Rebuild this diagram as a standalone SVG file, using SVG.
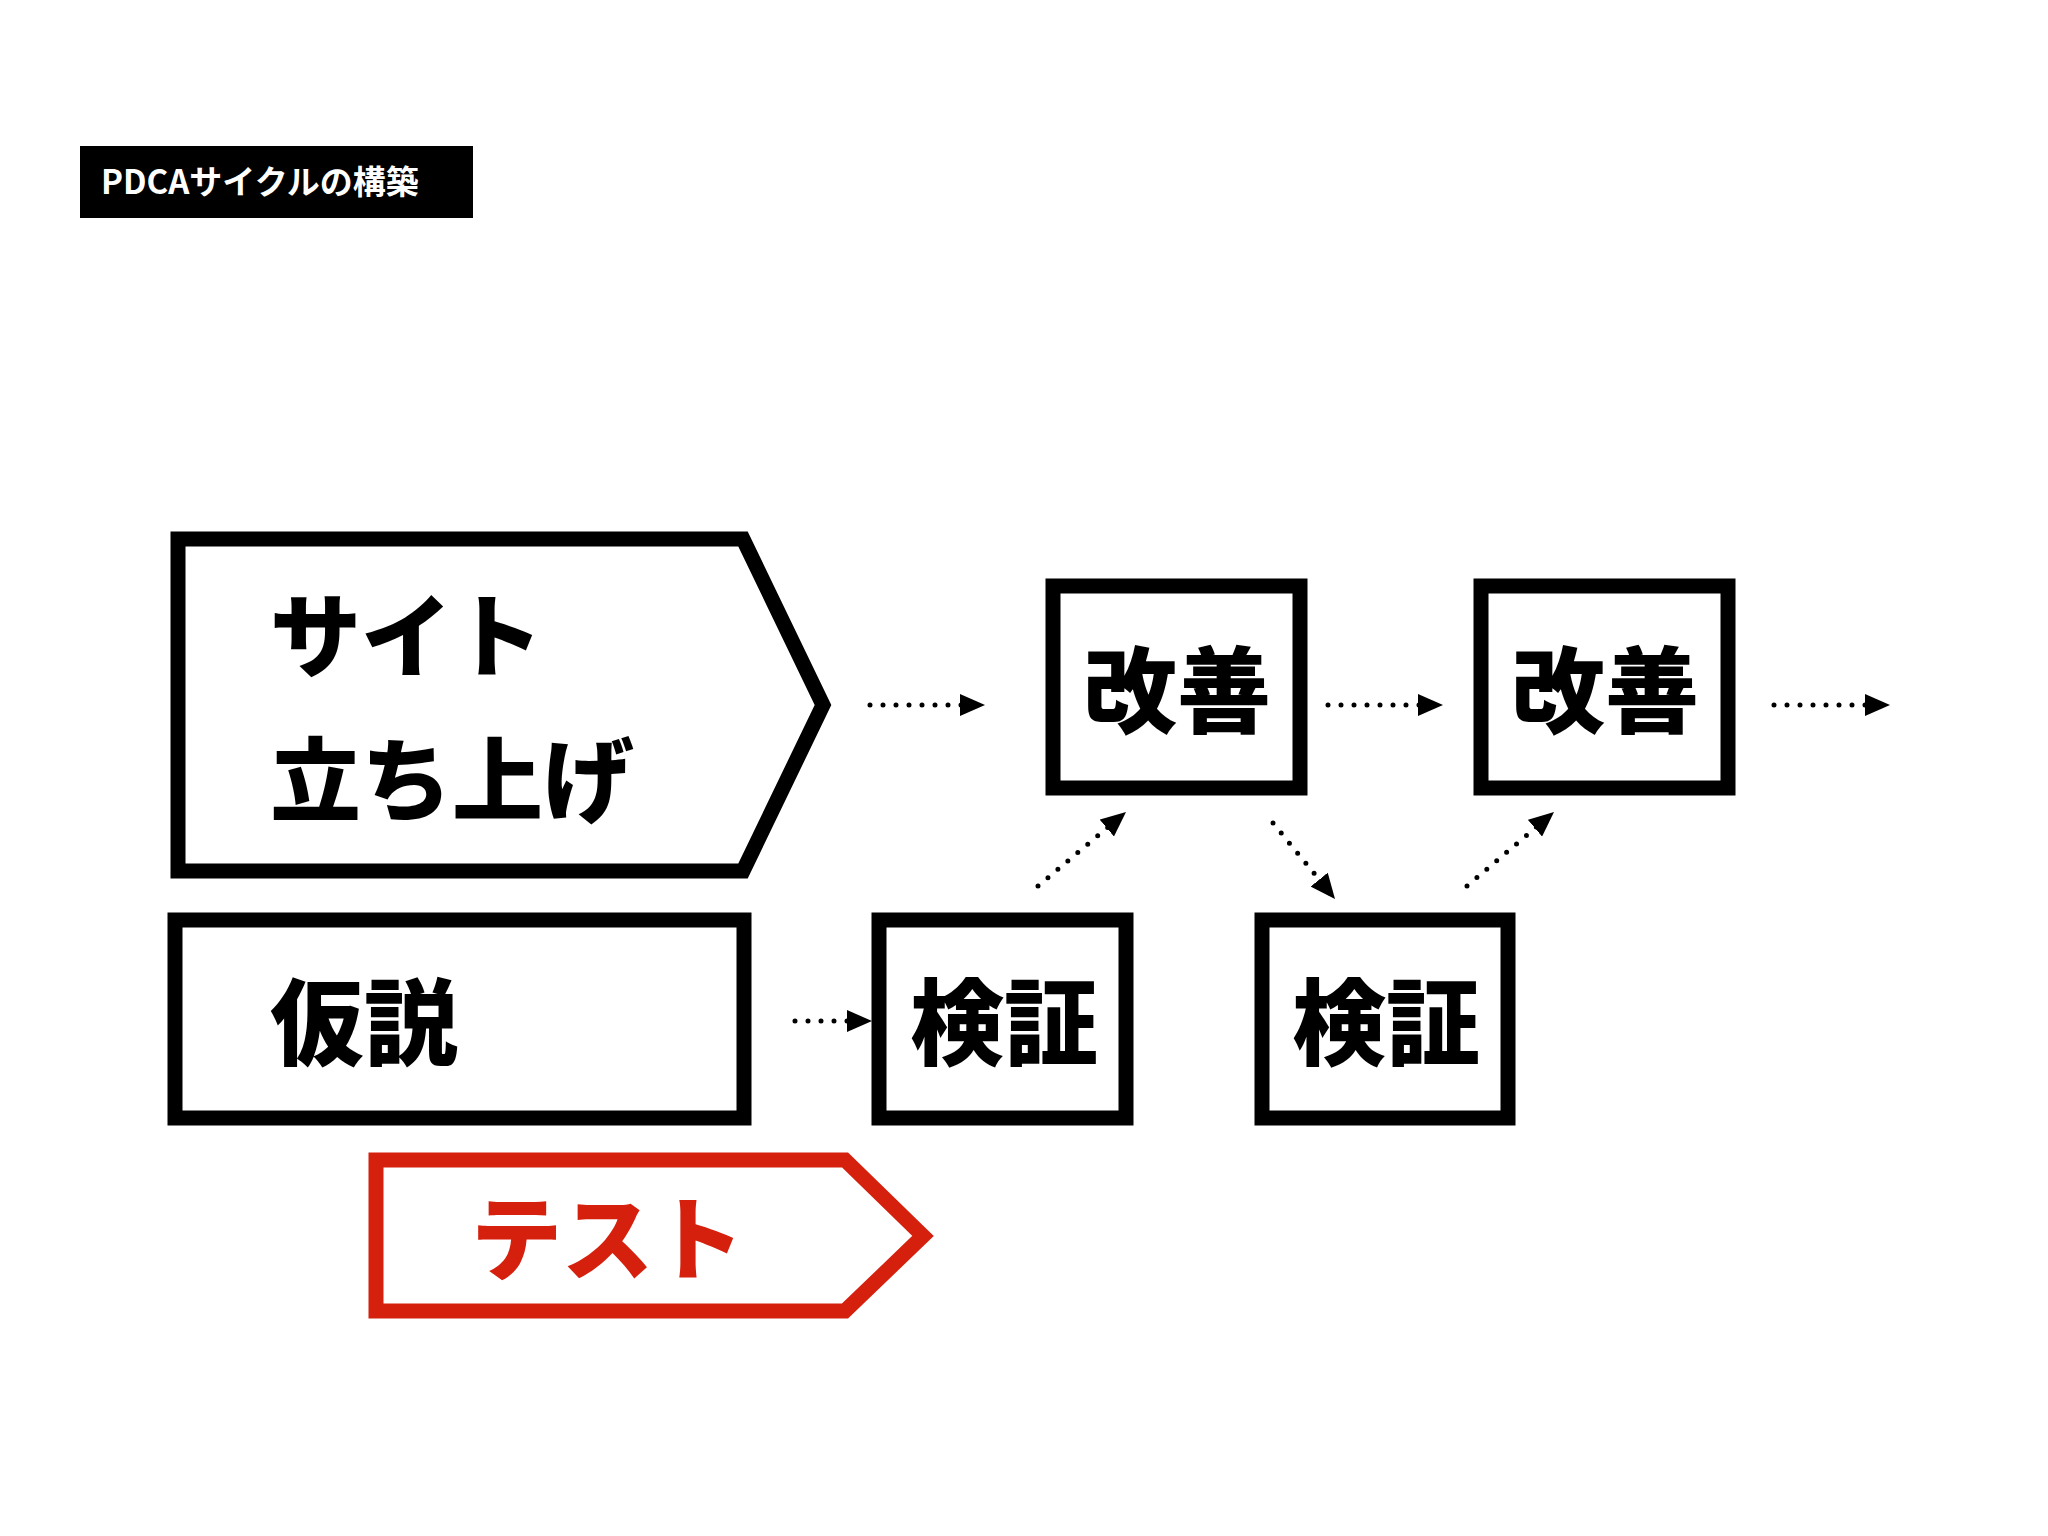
<svg xmlns="http://www.w3.org/2000/svg" width="2048" height="1536" viewBox="0 0 2048 1536">
<style>
.n{fill:#fff;stroke:#000;stroke-width:15}
.t{font-family:"Noto Sans CJK JP","Noto Sans CJK SC",sans-serif;font-weight:900;fill:#000}
.c{fill:none;stroke:#000;stroke-width:5;stroke-linecap:round;stroke-dasharray:0 13}
</style>
<defs>
<marker id="ah" markerUnits="userSpaceOnUse" markerWidth="26" markerHeight="22" refX="25" refY="11" orient="auto">
<path d="M0,0 L25,11 L0,22 Z" fill="#000"/>
</marker>
</defs>
<rect width="2048" height="1536" fill="#fff"/>
<g id="title">
<rect x="80" y="146" width="393" height="72" fill="#000"/>
<text x="101" y="194" font-family="'Noto Sans CJK JP',sans-serif" font-weight="700" font-size="33" fill="#fff">PDCAサイクルの構築</text>
</g>
<g id="site">
<path class="n" d="M178,539 H743 L823,705 L743,871 H178 Z"/>
<text class="t" x="270" y="670" font-size="91">サイト</text>
<text class="t" x="270" y="814" font-size="91">立ち上げ</text>
</g>
<g id="kasetsu">
<rect class="n" x="175" y="920" width="569" height="198"/>
<text class="t" x="270" y="1058" font-size="94">仮説</text>
</g>
<g id="kaizen1">
<rect class="n" x="1053" y="586" width="247" height="202"/>
<text class="t" x="1177" y="726" font-size="94" text-anchor="middle">改善</text>
</g>
<g id="kaizen2">
<rect class="n" x="1481" y="586" width="247" height="202"/>
<text class="t" x="1605" y="726" font-size="94" text-anchor="middle">改善</text>
</g>
<g id="kensho1">
<rect class="n" x="879" y="920" width="247" height="198"/>
<text class="t" x="1004" y="1058" font-size="94" text-anchor="middle">検証</text>
</g>
<g id="kensho2">
<rect class="n" x="1262" y="920" width="246" height="198"/>
<text class="t" x="1386" y="1058" font-size="94" text-anchor="middle">検証</text>
</g>
<g id="test">
<path d="M376,1160 H845 L923,1236 L845,1311 H376 Z" fill="#fff" stroke="#d6200e" stroke-width="15"/>
<text class="t" x="471" y="1273" font-size="91" fill="#d6200e" style="fill:#d6200e">テスト</text>
</g>
<g id="connectors">
<path class="c" d="M870,705 H985" marker-end="url(#ah)"/>
<path class="c" d="M1328,705 H1443" marker-end="url(#ah)"/>
<path class="c" d="M1774,705 H1890" marker-end="url(#ah)"/>
<path class="c" d="M795,1021 H872" marker-end="url(#ah)"/>
<path class="c" d="M1038,886 L1126,812" marker-end="url(#ah)"/>
<path class="c" d="M1273,823 L1335,899" marker-end="url(#ah)"/>
<path class="c" d="M1467,886 L1554,812" marker-end="url(#ah)"/>
</g>
</svg>
